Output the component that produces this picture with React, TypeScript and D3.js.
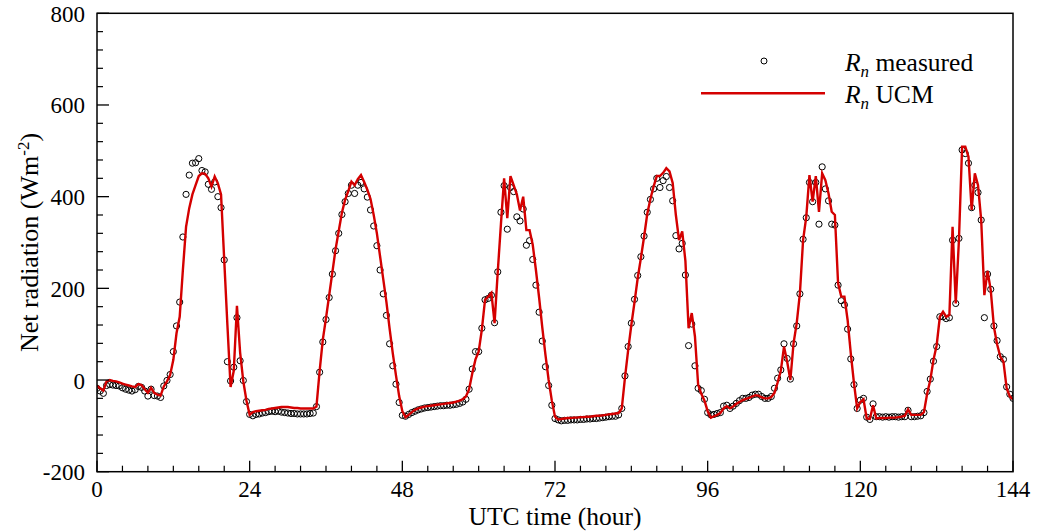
import React from "react";
import * as d3 from "d3";

// Measured net radiation (W m-2), half-hourly, per day
const measuredDay1 = [-18,-24,-29,-12,-10,-11,-12,-13,-17,-20,-22,-24,-21,-14,-16,-24,-35,-20,-34,-35,-38,-13,-1,12,62,118,170,312,405,447,473,474,483,457,454,427,416,432,400,376,262,40,-2,28,136,42,-1,-47];
const measuredDay2 = [-75,-78,-75,-74,-72,-71,-69,-68,-69,-68,-70,-71,-72,-73,-73,-74,-74,-74,-74,-73,-72,-58,17,83,132,180,231,282,320,361,389,407,425,407,425,431,417,399,371,336,293,240,188,141,79,31,-9,-49];
const measuredDay3 = [-77,-79,-75,-71,-68,-65,-63,-61,-60,-59,-58,-57,-56,-56,-55,-55,-54,-53,-51,-48,-42,-20,24,62,62,113,175,178,185,125,236,366,424,329,420,411,356,347,373,294,304,263,207,148,85,29,-12,-55];
const measuredDay4 = [-84,-87,-89,-88,-88,-87,-87,-87,-86,-86,-85,-85,-84,-84,-83,-82,-81,-80,-79,-79,-76,-62,9,73,124,176,228,269,314,366,394,417,440,420,435,444,420,391,315,286,298,229,75,122,31,-18,-23,-42];
const measuredDay5 = [-71,-76,-75,-73,-71,-57,-55,-62,-57,-51,-45,-40,-40,-38,-33,-31,-31,-36,-40,-40,-36,-18,4,22,79,47,2,79,118,188,307,354,431,389,431,340,465,417,391,340,338,207,173,164,111,46,-10,-62];
const measuredDay6 = [-44,-40,-81,-86,-52,-80,-80,-81,-80,-81,-80,-80,-81,-80,-80,-66,-80,-80,-79,-78,-71,-25,2,41,73,138,138,134,136,305,167,309,502,494,473,376,425,409,349,136,231,198,118,86,51,45,-15,-31,-40];

// UCM modelled net radiation (W m-2), half-hourly, per day
const ucmDay1 = [-13,-18,-23,-3,0,-2,-3,-5,-8,-10,-12,-14,-15,-9,-11,-20,-28,-17,-28,-32,-34,-14,-3,11,44,102,138,240,334,375,405,425,445,451,450,440,422,444,429,405,262,120,-15,20,162,60,-3,-45];
const ucmDay2 = [-76,-70,-68,-67,-66,-65,-63,-62,-61,-60,-59,-59,-59,-60,-61,-61,-62,-62,-62,-62,-62,-58,20,88,135,185,235,285,325,365,393,412,433,425,438,447,432,415,395,360,320,270,220,170,112,58,10,-35];
const ucmDay3 = [-68,-81,-76,-70,-65,-62,-60,-58,-57,-56,-55,-54,-53,-52,-51,-50,-49,-47,-45,-42,-36,-20,15,45,62,110,175,182,190,124,236,340,440,353,445,425,405,370,400,327,327,295,240,180,115,55,0,-45];
const ucmDay4 = [-80,-86,-85,-84,-83,-83,-82,-82,-81,-81,-80,-80,-79,-78,-78,-77,-76,-75,-74,-73,-72,-62,5,65,120,170,222,266,312,362,395,422,445,445,452,462,455,430,360,305,324,260,113,146,95,-10,-30,-45];
const ucmDay5 = [-68,-82,-79,-76,-72,-62,-57,-62,-58,-52,-48,-44,-41,-39,-36,-33,-34,-38,-40,-40,-37,-28,-5,20,73,40,0,80,124,189,305,356,447,389,445,367,451,436,407,367,360,211,182,182,131,58,-7,-62];
const ucmDay6 = [-48,-42,-84,-85,-55,-84,-83,-83,-83,-82,-82,-82,-81,-80,-78,-64,-76,-76,-76,-76,-70,-30,0,44,76,138,149,138,142,334,167,305,509,509,487,371,451,425,349,185,238,196,116,78,51,40,-18,-36,-42];

const timeStep = 0.5; // hours between samples
const xMajorTicks = [0, 24, 48, 72, 96, 120, 144];
const yMajorTicks = [-200, 0, 200, 400, 600, 800];
const xMinorStep = 4;
const yMinorStep = 40;

const measured = [...measuredDay1, ...measuredDay2, ...measuredDay3, ...measuredDay4, ...measuredDay5, ...measuredDay6];
const ucm = [...ucmDay1, ...ucmDay2, ...ucmDay3, ...ucmDay4, ...ucmDay5, ...ucmDay6];

const W = 1037;
const H = 531;
const L = 97, R = 1013, T = 13.3, B = 471.7;
const FONT = "'Liberation Serif', 'Times New Roman', serif";
const RED = "#d40000";

export default function App() {
  const x = d3.scaleLinear().domain([0, 144]).range([L, R]);
  const y = d3.scaleLinear().domain([-200, 800]).range([B, T]);

  const mPts = measured.map((v, i) => ({ t: i * timeStep, v }));
  const uPts = ucm.map((v, i) => ({ t: i * timeStep, v }));
  const line = d3.line<{ t: number; v: number }>().x(d => x(d.t)).y(d => y(d.v));

  const xMinor = d3.range(0, 144 + 0.001, xMinorStep).filter(t => !xMajorTicks.includes(t));
  const yMinor = d3.range(-200, 800 + 0.001, yMinorStep).filter(v => !yMajorTicks.includes(v));

  return (
    <svg width={W} height={H} style={{ position: "absolute", left: 0, top: 0, background: "#fff" }} fontFamily={FONT}>
      <rect x={0} y={0} width={W} height={H} fill="#fff" />
      <defs>
        <clipPath id="plotclip">
          <rect x={L} y={T} width={R - L} height={B - T} />
        </clipPath>
      </defs>

      {/* measured points */}
      <g clipPath="url(#plotclip)">
        {mPts.map((d, i) => (
          <circle key={i} cx={x(d.t)} cy={y(d.v)} r={3.1} fill="none" stroke="#000" strokeWidth={1} />
        ))}
        <path d={line(uPts) || ""} fill="none" stroke={RED} strokeWidth={2.4} strokeLinejoin="miter" />
      </g>

      {/* frame */}
      <rect x={L} y={T} width={R - L} height={B - T} fill="none" stroke="#000" strokeWidth={1.5} />

      {/* x ticks */}
      {xMajorTicks.map(t => (
        <g key={"xM" + t}>
          <line x1={x(t)} x2={x(t)} y1={B} y2={B - 11} stroke="#000" strokeWidth={1.3} />
          <text x={x(t)} y={497} textAnchor="middle" fontSize={23}>{t}</text>
        </g>
      ))}
      {xMinor.map(t => (
        <line key={"xm" + t} x1={x(t)} x2={x(t)} y1={B} y2={B - 6} stroke="#000" strokeWidth={1.2} />
      ))}

      {/* y ticks */}
      {yMajorTicks.map(v => (
        <g key={"yM" + v}>
          <line x1={L} x2={L + 12} y1={y(v)} y2={y(v)} stroke="#000" strokeWidth={1.3} />
          <text x={L - 12} y={y(v) + 8.5} textAnchor="end" fontSize={23}>{v}</text>
        </g>
      ))}
      {yMinor.map(v => (
        <line key={"ym" + v} x1={L} x2={L + 6} y1={y(v)} y2={y(v)} stroke="#000" strokeWidth={1.2} />
      ))}

      {/* axis titles */}
      <text x={(L + R) / 2} y={525} textAnchor="middle" fontSize={25.5}>UTC time (hour)</text>
      <text transform={`translate(38, ${(T + B) / 2}) rotate(-90)`} textAnchor="middle" fontSize={26}>
        Net radiation (Wm<tspan dy={-9} fontSize={17}>-2</tspan><tspan dy={9}>)</tspan>
      </text>

      {/* legend */}
      <circle cx={764} cy={61} r={3} fill="none" stroke="#000" strokeWidth={1} />
      <text x={845} y={70.5} fontSize={25.5}>
        <tspan fontStyle="italic">R</tspan>
        <tspan fontStyle="italic" fontSize={17} dy={6}>n</tspan>
        <tspan dy={-6}> measured</tspan>
      </text>
      <line x1={701} x2={825} y1={93.3} y2={93.3} stroke={RED} strokeWidth={2.4} />
      <text x={845} y={103.3} fontSize={25.5}>
        <tspan fontStyle="italic">R</tspan>
        <tspan fontStyle="italic" fontSize={17} dy={6}>n</tspan>
        <tspan dy={-6}> UCM</tspan>
      </text>
    </svg>
  );
}
